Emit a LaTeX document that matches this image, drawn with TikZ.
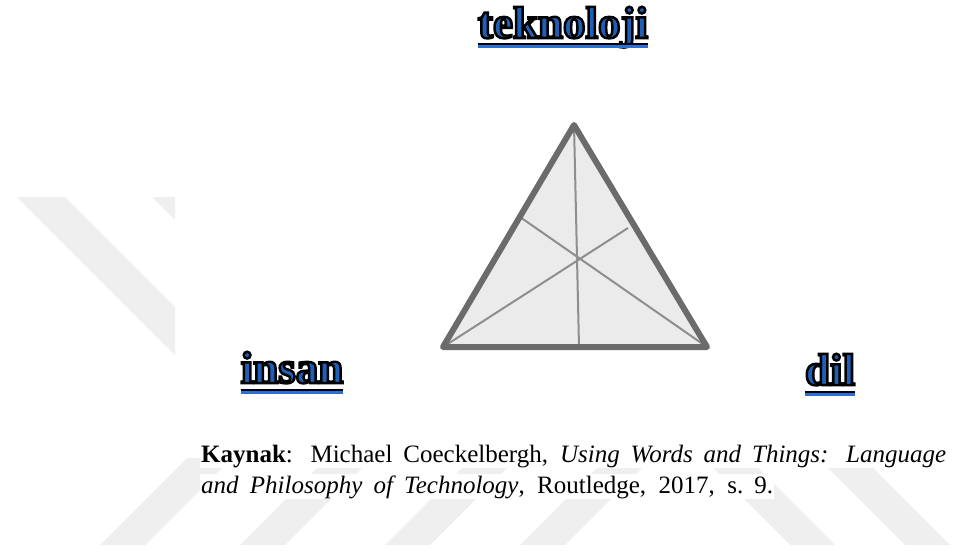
\documentclass[tikz,border=0pt]{standalone}
\usepackage{fontspec}
\setmainfont{Liberation Serif}
\usepackage{tikz}

\definecolor{wmgray}{HTML}{EFEFEF}
\definecolor{edgegray}{HTML}{6B6B6B}
\definecolor{facegray}{HTML}{EBEBEB}
\definecolor{medgray}{HTML}{8E8E8E}
\definecolor{wordblue}{HTML}{1F5FB8}
\definecolor{ulblue}{HTML}{2D6FD8}

\tikzset{
  corner/.style={font=\fontsize{45}{45}\selectfont\bfseries, inner sep=0pt, anchor=base, text=wordblue},
  caption/.style={font=\fontsize{25}{25}\selectfont, inner sep=1pt, anchor=base west, fill=white},
  side/.style={edgegray, line width=6pt, line join=round},
  median/.style={medgray, line width=2pt},
  stripe/.style={wmgray}
}

% blue letters with a black rim
\newcommand{\rimword}[1]{\special{pdf:literal direct 2 Tr 2.5 w 0 0 0 RG}#1\special{pdf:literal direct 0 Tr}}

\begin{document}
\begin{tikzpicture}[x=1pt,y=-1pt]
\useasboundingbox (0,0) rectangle (965,551);

% watermark
\begin{scope}
\clip (15,197) rectangle (175,360);
\fill[stripe] (17,197) -- (65,197) -- (175,307) -- (175,355) -- cycle;
\fill[stripe] (152,197) -- (200,197) -- (200,245) -- cycle;
\end{scope}
\foreach \b in {100,240,385,520}
  \fill[stripe] (\b,545) -- (\b+45,545) -- (\b+132,458) -- (\b+87,458) -- cycle;
\foreach \b in {703,818}
  \fill[stripe] (\b,458) -- (\b+45,458) -- (\b+132,545) -- (\b+87,545) -- cycle;

% triangle
\coordinate (apex) at (574,125);
\coordinate (left) at (443,347);
\coordinate (right) at (707,347);
\coordinate (footb) at (579,347);
\coordinate (footl) at (520,217);
\coordinate (footr) at (628,228);

\fill[facegray] (apex) -- (left) -- (right) -- cycle;
\draw[median]
(apex) -- (footb)
(left) -- (footr)
(right) -- (footl);
\draw[side] (apex) -- (left) -- (right) -- cycle;

% corner words
\node[corner] (tek) at (563,38) {\rimword{teknoloji}};
\node[corner] (ins) at (292,383) {\rimword{insan}};
\node[corner] (dil) at (830,385) {\rimword{dil}};
\foreach \w in {tek,ins,dil} {
  \draw[ulblue, line width=3pt] ([yshift=-9pt]\w.base west) -- ([yshift=-9pt]\w.base east);
  \draw[black, line width=2pt] ([yshift=-6.5pt]\w.base west) -- ([yshift=-6.5pt]\w.base east);
}

% source
\node[caption] (src1) at (200,462) {\makebox[745pt][s]{\textbf{Kaynak}: Michael Coeckelbergh, \textit{Using Words and Things: Language}}};
\node[caption] (src2) at (200,493) {\makebox[572pt][s]{\textit{and Philosophy of Technology}, Routledge, 2017, s.~9.}};
\end{tikzpicture}
\end{document}
